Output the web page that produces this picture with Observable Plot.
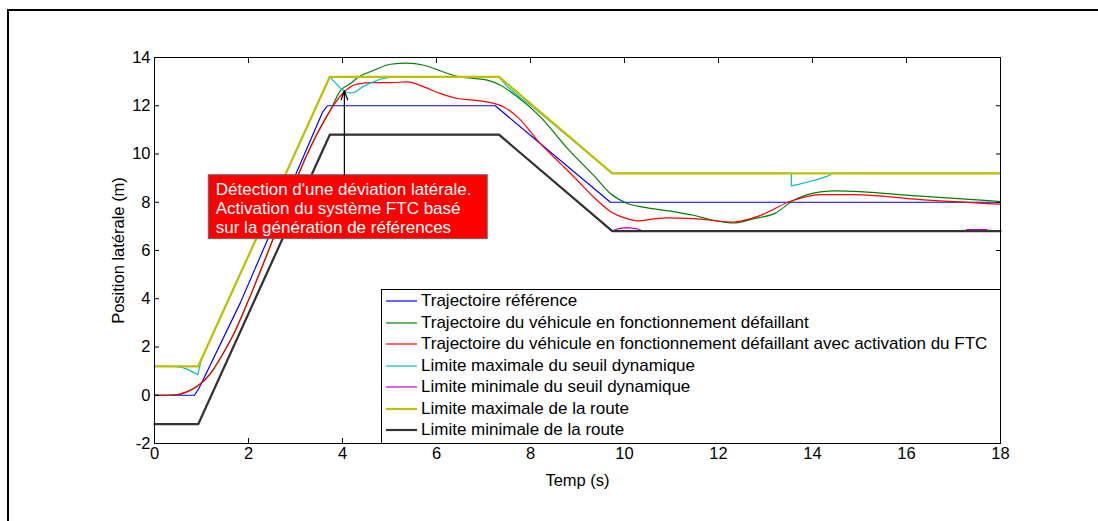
<!DOCTYPE html>
<html>
<head>
<meta charset="utf-8">
<script src="https://cdn.jsdelivr.net/npm/d3@7"></script>
<script src="https://cdn.jsdelivr.net/npm/@observablehq/plot@0.6"></script>
<style>
  html, body { margin: 0; padding: 0; background: #fff; }
  #wrap { position: relative; width: 1098px; height: 521px; overflow: hidden; font-family: "Liberation Sans", Arial, sans-serif; }
  #outer { position: absolute; left: 7px; top: 9px; width: 1100px; height: 520px; border-top: 2px solid #000; border-left: 2px solid #000; pointer-events: none; }
  #legend { position: absolute; left: 381px; top: 289px; width: 618px; height: 153px; border: 1px solid #000; background: #fff; }
  .row { position: absolute; left: 0; height: 22px; display: flex; align-items: center; font-size: 17px; color: #000; white-space: nowrap; }
  .row svg { margin-left: 4px; margin-right: 4px; }
</style>
</head>
<body>
<div id="wrap">
  <div id="chart"></div>
  <div id="outer"></div>
  <div id="legend"></div>
</div>
<script>
// ---- Data (time in s, lateral position in m) ----
const xTicks = [0, 2, 4, 6, 8, 10, 12, 14, 16, 18];
const yTicks = [-2, 0, 2, 4, 6, 8, 10, 12, 14];

const refTraj = [[0,0],[0.85,0],[0.95,0.3],[1.83,3.85],[3.58,11.75],[3.68,12],[7.25,12],[9.7,8],[18,8]];

const faultTraj = [[0,0],[0.3,0],[0.5,0.03],[0.7,0.15],[0.91,0.37],[1.19,0.9],[1.45,1.7],[1.69,2.56],[1.97,3.8],[2.26,5.18],[2.54,6.56],[2.82,7.95],[3.04,9.05],[3.39,10.57],[3.74,11.81],[3.96,12.64],[4.17,12.92],[4.31,13.15],[4.67,13.47],[5.02,13.72],[5.38,13.77],[5.73,13.68],[6.09,13.44],[6.44,13.22],[6.79,13.13],[7.08,13.06],[7.36,12.85],[7.72,12.37],[8.21,11.54],[8.8,10.2],[9.35,9.1],[9.7,8.36],[10.06,7.95],[10.4,7.8],[10.98,7.63],[11.47,7.46],[11.9,7.25],[12.32,7.14],[12.75,7.32],[13.2,7.54],[13.6,8.08],[14.17,8.43],[14.5,8.47],[16.3,8.25],[18,8.03]];

const ftcTraj = [[0,0],[0.3,0],[0.5,0.03],[0.7,0.15],[0.91,0.37],[1.19,0.9],[1.45,1.7],[1.69,2.56],[1.97,3.8],[2.26,5.18],[2.54,6.56],[2.82,7.95],[3.04,9.05],[3.39,10.57],[3.74,11.81],[4.03,12.57],[4.31,12.9],[4.67,12.96],[5.02,12.96],[5.38,12.99],[5.73,12.78],[6.09,12.5],[6.44,12.3],[6.79,12.23],[7.15,12.13],[7.43,11.95],[7.72,11.54],[8.21,10.43],[8.64,9.6],[9.0,8.9],[9.34,8.22],[9.7,7.62],[10.06,7.32],[10.27,7.23],[10.6,7.3],[10.9,7.35],[11.47,7.32],[12.3,7.18],[12.9,7.46],[13.53,8.04],[14.17,8.32],[14.87,8.32],[16.3,8.11],[18,7.92]];

const thresholdMax = [[0,1.2],[0.4,1.2],[0.5,1.18],[0.6,1.14],[0.7,1.08],[0.8,0.98],[0.92,0.85],[1.0,1.5],[3.73,13.2],[3.85,12.95],[3.96,12.71],[4.07,12.57],[4.17,12.52],[4.28,12.58],[4.4,12.75],[4.6,12.95],[4.8,13.1],[5.02,13.19],[5.1,13.2],[7.33,13.2],[7.5,12.8],[7.8,12.3],[8.0,12.03],[9.74,9.2],[13.55,9.2],[13.55,8.68],[13.7,8.74],[13.9,8.84],[14.17,8.98],[14.3,9.07],[14.45,9.2],[18,9.2]];

const thresholdMin = [[0,-1.2],[0.93,-1.2],[3.73,10.8],[7.33,10.8],[9.74,6.8],[9.8,6.86],[9.9,6.92],[10.06,6.95],[10.2,6.92],[10.3,6.88],[10.4,6.8],[17.2,6.8],[17.3,6.87],[17.7,6.87],[17.75,6.8],[18,6.8]];

const roadMax = [[0,1.2],[0.93,1.2],[3.73,13.2],[7.33,13.2],[9.74,9.2],[18,9.2]];
const roadMin = [[0,-1.2],[0.93,-1.2],[3.73,10.8],[7.33,10.8],[9.74,6.8],[18,6.8]];

const seriesNames = [
  "Trajectoire référence",
  "Trajectoire du véhicule en fonctionnement défaillant",
  "Trajectoire du véhicule en fonctionnement défaillant avec activation du FTC",
  "Limite maximale du seuil dynamique",
  "Limite minimale du seuil dynamique",
  "Limite maximale de la route",
  "Limite minimale de la route"
];
const seriesColors = ["#0000ff", "#008000", "#ff0000", "#00bfbf", "#bf00bf", "#bfbf00", "#333333"];
const seriesWidths = [1.2, 1.2, 1.2, 1.2, 1.2, 2.2, 2.2];
const seriesCurves = ["linear", "monotone-x", "monotone-x", "linear", "linear", "linear", "linear"];
const seriesData = [refTraj, faultTraj, ftcTraj, thresholdMax, thresholdMin, roadMax, roadMin];

// annotation (in data units)
const noteBox = [{x1: 1.155, x2: 7.09, y1: 6.47, y2: 9.12,
  text: "Détection d'une déviation latérale.\nActivation du système FTC basé\nsur la génération de références"}];
const noteArrow = [{x: 4.04, y1: 9.12, y2: 12.62}];

// ---- Build ----
const lineMarks = seriesData.map((d, i) => Plot.line(d, {
  x: p => p[0], y: p => p[1],
  stroke: seriesColors[i], strokeWidth: seriesWidths[i], curve: seriesCurves[i]
}));

const chart = Plot.plot({
  width: 1098, height: 521,
  marginLeft: 154, marginRight: 98, marginTop: 57, marginBottom: 78,
  style: {fontFamily: "'Liberation Sans', Arial, sans-serif", fontSize: "16.5px", color: "#000", background: "transparent"},
  x: {domain: [0, 18]},
  y: {domain: [-2, 14]},
  marks: [
    ...lineMarks,
    Plot.rect(noteBox, {x1: "x1", x2: "x2", y1: "y1", y2: "y2", fill: "#ff0000", stroke: "#666", strokeWidth: 1}),
    Plot.text(noteBox, {x: "x1", y: "y2", text: "text", textAnchor: "start", lineAnchor: "top", dx: 7, dy: 6, fill: "#fff", fontSize: 17, lineHeight: 1.13}),
    Plot.arrow(noteArrow, {x1: "x", x2: "x", y1: "y1", y2: "y2", stroke: "#000", strokeWidth: 1.2, headLength: 12, headAngle: 40}),
    Plot.frame({stroke: "#000", strokeWidth: 1}),
    Plot.axisX({ticks: xTicks, tickSize: 0, tickPadding: 4, tickFormat: d => String(d), label: "Temp (s)", labelAnchor: "center", labelArrow: "none", labelOffset: 42}),
    Plot.axisX({ticks: xTicks, tickSize: -5, text: null, label: null}),
    Plot.axisX({anchor: "top", ticks: xTicks, tickSize: -5, text: null, label: null}),
    Plot.axisY({ticks: yTicks, tickSize: 0, tickPadding: 4, tickFormat: d => String(d), label: "Position latérale (m)", labelAnchor: "center", labelArrow: "none", labelOffset: 42}),
    Plot.axisY({ticks: yTicks, tickSize: -5, text: null, label: null}),
    Plot.axisY({anchor: "right", ticks: yTicks, tickSize: -5, text: null, label: null})
  ]
});
document.getElementById("chart").appendChild(chart);

// ---- Legend ----
const legend = document.getElementById("legend");
seriesNames.forEach((name, i) => {
  const row = document.createElement("div");
  row.className = "row";
  row.style.top = (i * 21.5) + "px";
  const ns = "http://www.w3.org/2000/svg";
  const s = document.createElementNS(ns, "svg");
  s.setAttribute("width", 31); s.setAttribute("height", 6);
  const l = document.createElementNS(ns, "line");
  l.setAttribute("x1", 0); l.setAttribute("x2", 31); l.setAttribute("y1", 3); l.setAttribute("y2", 3);
  l.setAttribute("stroke", seriesColors[i]); l.setAttribute("stroke-width", seriesWidths[i]);
  s.appendChild(l);
  row.appendChild(s);
  const t = document.createElement("span");
  t.textContent = name;
  row.appendChild(t);
  legend.appendChild(row);
});
</script>
</body>
</html>
